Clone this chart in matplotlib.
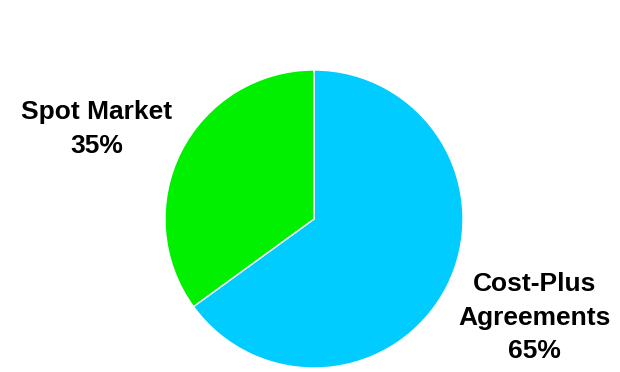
import matplotlib.pyplot as plt

segments = ['Cost-Plus\nAgreements', 'Spot Market']
shares = [65, 35]
colors = ['#00CCFF', '#00F000']

plt.rcParams['font.family'] = ['Liberation Sans', 'DejaVu Sans']

fig = plt.figure(figsize=(6.2, 3.72), dpi=100)
# square axes so the pie sits right of centre with room for the labels
ax = fig.add_axes([165 / 620, 4 / 372, 298 / 620, 298 / 372])

wedges, _ = ax.pie(shares, colors=colors, startangle=90, counterclock=False,
                   wedgeprops=dict(edgecolor='white', linewidth=1))
ax.set_xlim(-1, 1)
ax.set_ylim(-1, 1)
ax.set_aspect('equal')
ax.axis('off')

label_pos = [(1.477, -0.664), (-1.456, 0.604)]
for name, pct, (x, y) in zip(segments, shares, label_pos):
    ax.text(x, y, f'{name}\n{pct}%', ha='center', va='center',
            fontsize=19, fontweight='bold', linespacing=1.5)

fig.savefig('out.png', dpi=100)
